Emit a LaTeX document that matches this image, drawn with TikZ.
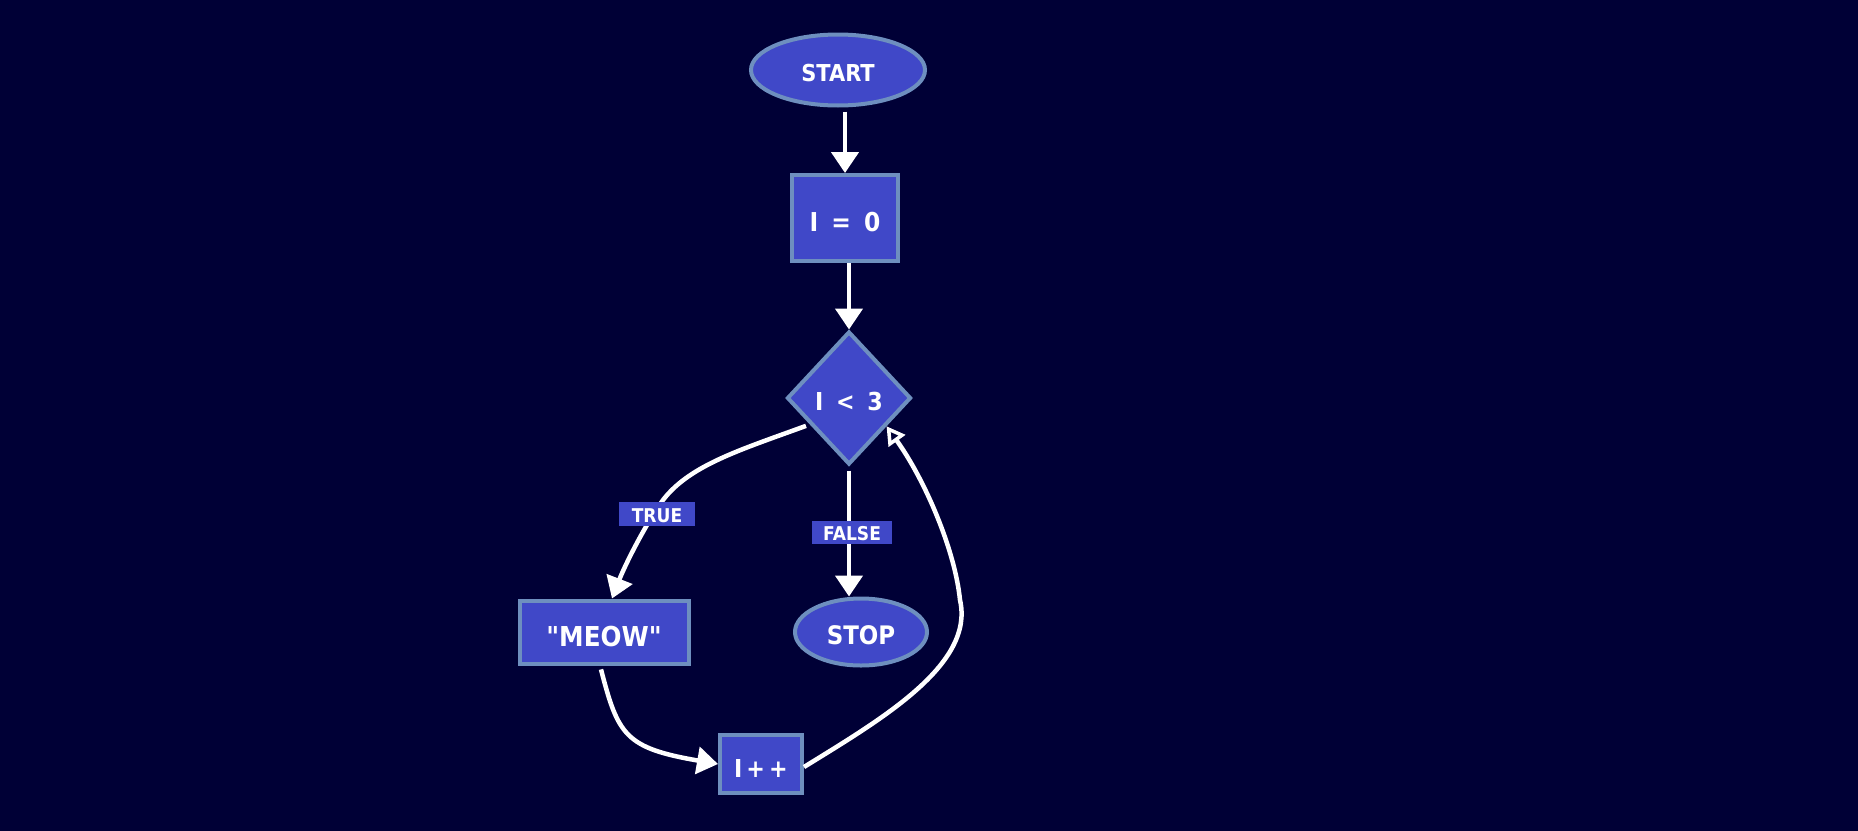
\documentclass[tikz,border=0pt]{standalone}
\usepackage{fontspec}
\setmainfont{DejaVu Sans}[FakeStretch=0.9, Ligatures=TeXOff]
\usetikzlibrary{shapes.geometric,arrows.meta}
\definecolor{bg}{RGB}{0,0,54}
\definecolor{nodefill}{RGB}{64,72,200}
\definecolor{nodeedge}{RGB}{110,143,191}
\begin{document}
\begin{tikzpicture}[x=1pt,y=-1pt,
  base/.style={fill=nodefill, draw=nodeedge, line width=4pt, text=white, inner sep=0pt, text depth=0pt},
  term/.style={base, ellipse},
  proc/.style={base, rectangle},
  dec/.style={base, diamond},
  lbl/.style={fill=nodefill, text=white, font=\bfseries\fontsize{19}{20}\selectfont, inner sep=0pt, minimum height=23pt, text depth=0pt, text height=16pt},
  conn/.style={draw=white, line width=4.5pt, -{Triangle[width=27pt,length=21pt]}},
  back/.style={draw=white, line width=4.5pt, -{Triangle[open,width=20pt,length=18pt,line width=3.5pt]}}]

\useasboundingbox (0,0) rectangle (1858,830);
\fill[bg] (-5,-5) rectangle (1863,835);

\node[term, minimum width=174pt, minimum height=71pt, text height=22pt, font=\bfseries\fontsize{23.3}{28}\selectfont] (start) at (838,70) {START};
\node[proc, minimum width=106pt, minimum height=86pt, text height=27pt, font=\bfseries\fontsize{26}{30}\selectfont] (i0) at (845,218) {I\hspace{5pt} = \hspace{5pt}0};
\node[dec, minimum width=124pt, minimum height=133pt, text height=25pt, font=\bfseries\fontsize{24.7}{30}\selectfont] (dia) at (849,398) {I\hspace{5pt} < \hspace{5pt}3};
\node[proc, minimum width=169pt, minimum height=63pt, text height=29pt, font=\bfseries\fontsize{27.4}{32}\selectfont] (meow) at (604,632) {"MEOW"};
\node[term, minimum width=132pt, minimum height=67pt, text height=24pt, font=\bfseries\fontsize{25.5}{30}\selectfont] (stop) at (861,632) {STOP};
\node[proc, minimum width=82pt, minimum height=58pt, text height=27pt, font=\bfseries\fontsize{24.7}{30}\selectfont] (inc) at (761,764) {I\hspace{4pt}+\hspace{4pt}+};

\draw[conn, shorten <=4pt] (i0.north |- start.south) -- (i0.north);
\draw[conn] (dia.north |- i0.south) -- (dia.north);
\draw[conn, shorten <=4pt] (dia.214) .. controls (740,450) and (690,465) .. (663,500)
   .. controls (645,525) and (625,565) .. ([xshift=8pt]meow.north);
\draw[conn, shorten <=4pt] (dia.south) -- (dia.south |- stop.north);
\draw[conn, shorten <=4pt] ([xshift=-4pt]meow.south) .. controls (618,735) and (625,748) .. (inc.west);
\draw[back] ([yshift=-3pt]inc.east) .. controls (880,720) and (975,665) .. (960,600)
   .. controls (955,550) and (925,480) .. (dia.-37);

\node[lbl, minimum width=76pt, minimum height=24pt] (ltrue) at (657,514) {TRUE};
\node[lbl, minimum width=80pt] (lfalse) at (852,532) {FALSE};
\end{tikzpicture}
\end{document}
